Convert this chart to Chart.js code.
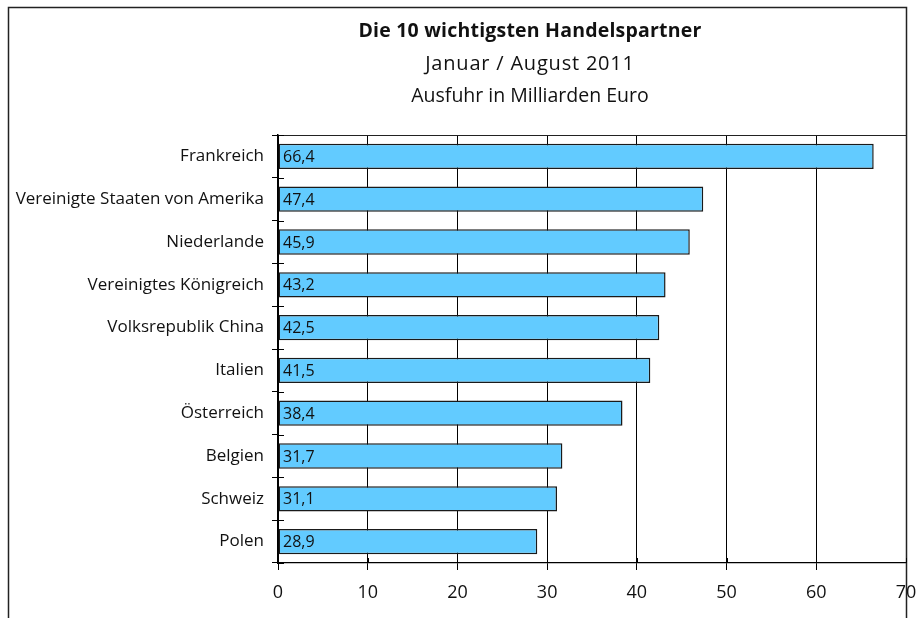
<!DOCTYPE html>
<html>
<head>
<meta charset="utf-8">
<script src="https://cdn.jsdelivr.net/npm/chart.js@4/dist/chart.umd.min.js"></script>
<style>
  html, body { margin: 0; padding: 0; background: #fff; }
  #wrap { width: 919px; height: 618px; }
</style>
</head>
<body>
<div id="wrap"><canvas id="chart" width="919" height="618"></canvas></div>
<script>
  'use strict';

  var countries = ['Frankreich', 'Vereinigte Staaten von Amerika', 'Niederlande',
    'Vereinigtes Königreich', 'Volksrepublik China', 'Italien', 'Österreich',
    'Belgien', 'Schweiz', 'Polen'];
  var exports = [66.4, 47.4, 45.9, 43.2, 42.5, 41.5, 38.4, 31.7, 31.1, 28.9];
  var xTicks = [0, 10, 20, 30, 40, 50, 60, 70];
  var titleLines = ['Die 10 wichtigsten Handelspartner', 'Januar / August 2011', 'Ausfuhr in Milliarden Euro'];

  var FONT = '"Open Sans", sans-serif';

  // frame, titles, inner tick stubs and value labels
  var decor = {
    id: 'decor',
    afterDraw: function (chart) {
      var ctx = chart.ctx;
      var area = chart.chartArea;
      var xs = chart.scales.x;
      var n = countries.length;
      ctx.save();

      // outer frame (open at the bottom)
      var right = Math.round(xs.getPixelForValue(70)) + 0.5;
      ctx.strokeStyle = '#222';
      ctx.lineWidth = 1.5;
      ctx.beginPath();
      ctx.moveTo(8.5, 618);
      ctx.lineTo(8.5, 7.5);
      ctx.lineTo(right, 7.5);
      ctx.lineTo(right, 618);
      ctx.stroke();

      // top border of plot area
      ctx.lineWidth = 1.2;
      ctx.beginPath();
      ctx.moveTo(area.left, area.top + 0.5);
      ctx.lineTo(area.right, area.top + 0.5);
      ctx.stroke();

      // tick stubs crossing the axes
      ctx.lineWidth = 1;
      ctx.strokeStyle = '#000';
      ctx.beginPath();
      for (var i = 0; i <= n; i++) {
        var y = Math.round(area.top + i * (area.bottom - area.top) / n) + 0.5;
        ctx.moveTo(area.left, y);
        ctx.lineTo(area.left + 6, y);
      }
      xTicks.forEach(function (t) {
        var x = Math.round(xs.getPixelForValue(t)) + 0.5;
        ctx.moveTo(x, area.bottom);
        ctx.lineTo(x, area.bottom - 5);
      });
      ctx.stroke();

      // titles
      ctx.fillStyle = '#111';
      ctx.textAlign = 'center';
      ctx.textBaseline = 'alphabetic';
      var cx = 530;
      ctx.font = 'bold 19.5px ' + FONT;
      ctx.letterSpacing = '0.2px';
      ctx.fillText(titleLines[0], cx, 37);
      ctx.font = '20px ' + FONT;
      ctx.letterSpacing = '0.8px';
      ctx.fillText(titleLines[1], cx, 70);
      ctx.font = '19.5px ' + FONT;
      ctx.letterSpacing = '0px';
      ctx.fillText(titleLines[2], cx, 102);

      // value labels inside the bars
      var meta = chart.getDatasetMeta(0);
      ctx.font = '16px ' + FONT;
      ctx.textAlign = 'left';
      ctx.textBaseline = 'middle';
      meta.data.forEach(function (bar, k) {
        var label = exports[k].toFixed(1).replace('.', ',');
        ctx.fillText(label, xs.getPixelForValue(0) + 5, bar.y + 1);
      });

      ctx.restore();
    }
  };

  new Chart(document.getElementById('chart'), {
    type: 'bar',
    data: {
      labels: countries,
      datasets: [{
        data: exports,
        backgroundColor: '#62CBFF',
        borderColor: '#1a1a1a',
        borderWidth: 1.5,
        borderSkipped: false,
        barPercentage: 0.59,
        categoryPercentage: 1
      }]
    },
    options: {
      indexAxis: 'y',
      responsive: false,
      animation: false,
      layout: { padding: { top: 135, right: 13, bottom: 10, left: 0 } },
      plugins: {
        legend: { display: false },
        tooltip: { enabled: false }
      },
      scales: {
        x: {
          min: 0,
          max: 70,
          afterFit: function (scale) {
            scale.height = 45;
            scale.paddingLeft = 0;
            scale.paddingRight = 0;
          },
          afterBuildTicks: function (scale) {
            scale.ticks = xTicks.map(function (v) { return { value: v }; });
          },
          grid: {
            color: '#000',
            lineWidth: 1,
            tickLength: 7,
            tickColor: '#000'
          },
          border: { color: '#000', width: 1.2 },
          ticks: {
            color: '#111',
            font: { family: FONT, size: 18 },
            padding: 12,
            maxRotation: 0
          }
        },
        y: {
          afterFit: function (scale) {
            scale.width = 278;
            scale.paddingTop = 0;
            scale.paddingBottom = 0;
          },
          grid: {
            drawOnChartArea: false,
            tickLength: 6,
            tickColor: '#000'
          },
          border: { color: '#000', width: 1.5 },
          ticks: {
            color: '#111',
            font: { family: FONT, size: 17 },
            padding: 8
          }
        }
      }
    },
    plugins: [decor]
  });
</script>
</body>
</html>
